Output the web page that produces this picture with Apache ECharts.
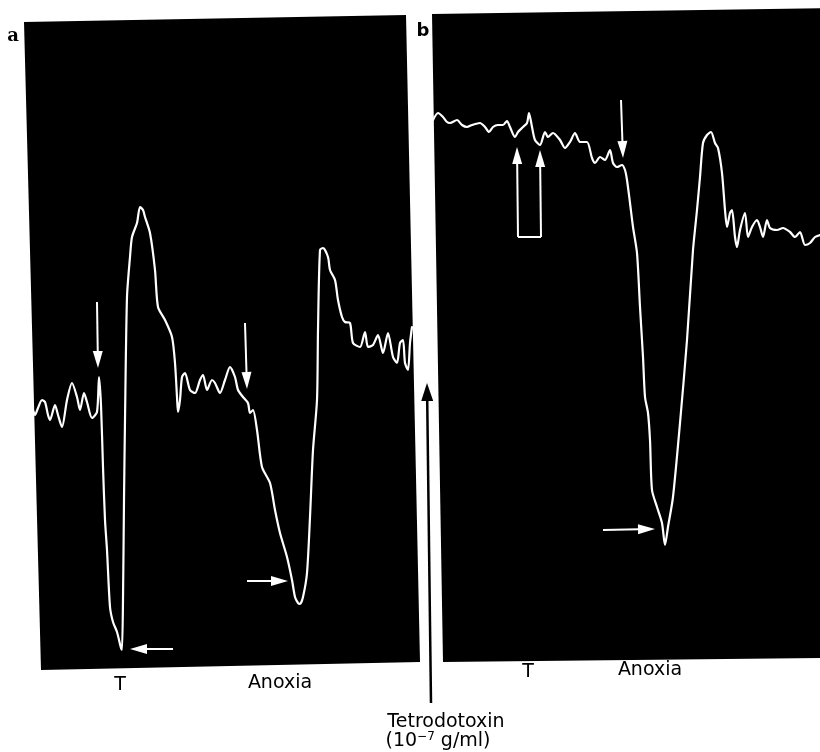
<!DOCTYPE html>
<html>
<head>
<meta charset="utf-8">
<script src="https://cdn.jsdelivr.net/npm/echarts@6/dist/echarts.min.js"></script>
<style>
  html, body { margin: 0; padding: 0; background: #fff; }
  #chart { width: 820px; height: 752px; }
</style>
</head>
<body>
<div id="chart"></div>
<script>
// Recorded traces: [time, signal] in arbitrary recorder units.
const traceA = [
  [3,260],[5,255],[8,262],[12,270],[15,268],[18,255],[20,250],[25,265],[28,255],[32,243],
  [37,270],[42,287],[47,273],[50,260],[54,277],[57,268],[62,252],[67,258],[69,293],[71,265],
  [73,203],[75,150],[77,120],[80,63],[83,48],[87,38],[91,22],[92,20],[93,70],[94,170],
  [95,250],[97,373],[100,413],[102,433],[107,447],[110,463],[113,460],[115,453],[120,437],[125,400],
  [128,363],[135,350],[142,333],[145,307],[147,273],[148,258],[150,270],[152,293],[155,297],[160,280],
  [165,277],[170,290],[173,295],[177,280],[182,290],[185,287],[190,277],[195,290],[200,303],[205,293],
  [208,280],[213,273],[218,267],[220,257],[223,260],[227,240],[232,203],[240,187],[245,160],[250,137],
  [257,113],[262,90],[265,73],[268,67],[270,66],[273,73],[277,97],[280,153],[283,220],[287,270],
  [288,340],[290,420],[293,422],[298,413],[300,400],[305,390],[308,370],[312,353],[315,348],[320,347],
  [323,327],[330,323],[335,338],[338,323],[343,325],[348,335],[353,317],[358,337],[363,313],[367,307],
  [370,327],[373,330],[375,307],[378,300],[380,327],[382,343]
];

const traceB = [
  [3,550],[8,557],[13,553],[17,548],[20,547],[27,550],[32,545],[37,543],[42,545],[50,547],
  [55,543],[59,538],[63,543],[68,545],[73,545],[77,549],[80,543],[85,533],[88,538],[93,543],
  [97,547],[99,557],[102,543],[105,530],[110,525],[115,538],[118,533],[123,537],[130,530],[135,522],
  [140,528],[145,537],[150,528],[157,528],[162,512],[165,507],[170,513],[175,510],[180,520],[183,507],
  [187,503],[192,505],[195,500],[197,490],[200,467],[203,443],[207,417],[210,363],[213,313],[215,273],
  [218,257],[220,230],[222,180],[227,163],[232,147],[235,125],[238,143],[243,173],[250,247],[257,330],
  [263,420],[267,460],[270,493],[273,527],[277,535],[281,538],[285,527],[288,522],[292,497],[295,460],
  [297,443],[300,457],[302,460],[305,433],[307,423],[310,440],[315,457],[318,433],[322,443],[327,450],
  [330,443],[333,433],[337,450],[340,442],[347,440],[353,442],[360,438],[365,433],[370,438],[375,425],
  [380,427],[385,433],[390,435]
];

// Event markers: [fromTime, fromSignal, toTime, toSignal]
const arrowsA = [
  [67,368,68,302],    // T applied
  [215,347,217,281],  // anoxia begins
  [143,21,100,21],    // peak response to T
  [217,89,258,89]     // peak response to anoxia
];
const arrowsB = [
  [191,570,193,512],  // anoxia begins
  [88,433,87,523],    // T applied
  [111,433,110,520],  // T applied
  [173,140,225,141]   // peak response to anoxia
];
const bracketB = [[88,433],[111,433]];
const drugArrow = [[1,-33,-3,287]];

// Stimulus names under each record
const stimulusNames = ['T', 'Anoxia'];
const stimulusPosA = [[90,-15],[250,-13]];
const stimulusPosB = [[98,-2],[220,0]];

const FONT = '"DejaVu Sans", sans-serif';

function arrowRenderer(color, headLen, headHalf, width) {
  return function (params, api) {
    const from = api.coord([api.value(0), api.value(1)]);
    const to = api.coord([api.value(2), api.value(3)]);
    const dx = to[0] - from[0], dy = to[1] - from[1];
    const len = Math.hypot(dx, dy) || 1;
    const ux = dx / len, uy = dy / len;
    const bx = to[0] - ux * headLen, by = to[1] - uy * headLen;
    return {
      type: 'group',
      children: [
        { type: 'line', shape: { x1: from[0], y1: from[1], x2: bx + ux, y2: by + uy },
          style: { stroke: color, lineWidth: width } },
        { type: 'polygon',
          shape: { points: [to, [bx - uy * headHalf, by + ux * headHalf], [bx + uy * headHalf, by - ux * headHalf]] },
          style: { fill: color } }
      ]
    };
  };
}

function labelSeries(pos, xi) {
  return {
    type: 'scatter', xAxisIndex: xi, yAxisIndex: xi, symbolSize: 0, clip: false, silent: true,
    itemStyle: { opacity: 1 },
    data: pos.map((p, i) => ({ name: stimulusNames[i], value: p })),
    label: { show: true, position: 'inside', formatter: '{b}', color: '#000', opacity: 1,
             fontFamily: FONT, fontSize: 19 }
  };
}

const chart = echarts.init(document.getElementById('chart'), null, { renderer: 'canvas' });

const traceStyle = { color: '#fff', width: 2.2, join: 'round', cap: 'round' };

chart.setOption({
  animation: false,
  backgroundColor: '#fff',
  grid: [
    { left: 30, top: 20, width: 390, height: 650, show: false },
    { left: 430, top: 10, width: 390, height: 660, show: false }
  ],
  xAxis: [
    { type: 'value', gridIndex: 0, min: 0, max: 390, show: false },
    { type: 'value', gridIndex: 1, min: 0, max: 390, show: false }
  ],
  yAxis: [
    { type: 'value', gridIndex: 0, min: 0, max: 650, show: false },
    { type: 'value', gridIndex: 1, min: 0, max: 660, show: false }
  ],
  graphic: [
    // oscilloscope screens
    { type: 'polygon', z: -10, silent: true,
      shape: { points: [[24,22],[406,15],[420,662],[41,670]] }, style: { fill: '#000' } },
    { type: 'polygon', z: -10, silent: true,
      shape: { points: [[432,14],[830,8],[830,658],[443,662]] }, style: { fill: '#000' } },
    { type: 'text', x: 13, y: 36, silent: true,
      style: { text: 'a', fontFamily: '"DejaVu Serif", serif', fontWeight: 'bold', fontSize: 18,
               fill: '#000', align: 'center', verticalAlign: 'middle' } },
    { type: 'text', x: 423, y: 31, silent: true,
      style: { text: 'b', fontFamily: '"DejaVu Sans", sans-serif', fontWeight: 'bold', fontSize: 18,
               fill: '#000', align: 'center', verticalAlign: 'middle' } },
    { type: 'text', x: 446, y: 722, silent: true,
      style: { text: 'Tetrodotoxin', fontFamily: FONT, fontSize: 19, fill: '#000',
               align: 'center', verticalAlign: 'middle' } },
    { type: 'text', x: 438, y: 741, silent: true,
      style: { text: '{n|(10}{s|−7}{n| g/ml)}', align: 'center', verticalAlign: 'middle',
               rich: {
                 n: { fontFamily: FONT, fontSize: 19, fill: '#000', color: '#000' },
                 s: { fontFamily: FONT, fontSize: 12, fill: '#000', color: '#000', padding: [0, 0, 9, 0] }
               } } }
  ],
  series: [
    { type: 'line', xAxisIndex: 0, yAxisIndex: 0, data: traceA, showSymbol: false,
      smooth: 0.25, lineStyle: traceStyle, z: 3 },
    { type: 'custom', xAxisIndex: 0, yAxisIndex: 0, data: arrowsA, z: 4,
      renderItem: arrowRenderer('#fff', 17, 5, 2) },
    labelSeries(stimulusPosA, 0),

    { type: 'line', xAxisIndex: 1, yAxisIndex: 1, data: traceB, showSymbol: false,
      smooth: 0.25, lineStyle: traceStyle, z: 3 },
    { type: 'custom', xAxisIndex: 1, yAxisIndex: 1, data: arrowsB, z: 4,
      renderItem: arrowRenderer('#fff', 17, 5, 2) },
    { type: 'line', xAxisIndex: 1, yAxisIndex: 1, data: bracketB, showSymbol: false,
      lineStyle: { color: '#fff', width: 2 }, z: 4 },
    labelSeries(stimulusPosB, 1),

    { type: 'custom', xAxisIndex: 1, yAxisIndex: 1, data: drugArrow, clip: false, z: 4,
      renderItem: arrowRenderer('#000', 18, 6, 2.5) }
  ]
});
</script>
</body>
</html>
